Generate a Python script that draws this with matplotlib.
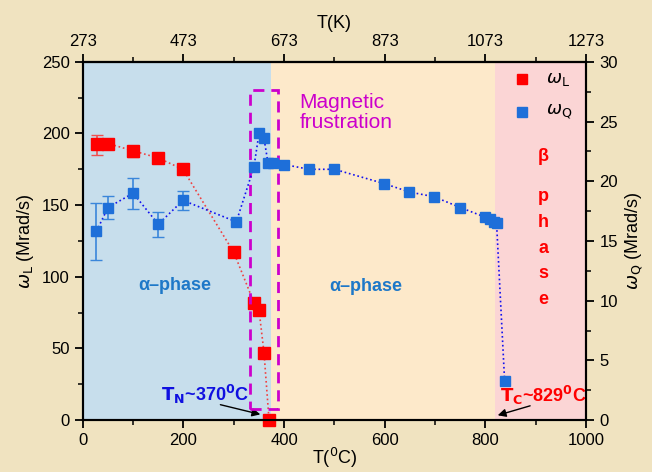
import matplotlib.pyplot as plt
from matplotlib.patches import Rectangle
from matplotlib.ticker import MultipleLocator

plt.rcParams['font.family'] = ['Liberation Sans', 'DejaVu Sans']

# omega_L (left axis)
tL = [28, 50, 99, 149, 199, 300, 340, 350, 360, 370]
wL = [193, 193, 188, 183, 175, 117, 82, 77, 47, 0]
tL_err = [28, 99]
wL_err_val = [193, 188]
wL_err_lo = [8, 4.5]
wL_err_hi = [6, 3]

# omega_Q (right axis)
tQ = [27, 50, 100, 150, 199, 305, 340, 350, 360, 368, 377, 400, 450, 500,
      599, 649, 698, 750, 799, 809, 817, 822, 838]
wQ = [15.8, 17.8, 19.0, 16.4, 18.4, 16.6, 21.2, 24.0, 23.6, 21.5, 21.5, 21.4,
      21.0, 21.0, 19.8, 19.1, 18.7, 17.8, 17.0, 16.8, 16.6, 16.5, 3.3]
tQ_err = [27, 50, 100, 150, 199]
wQ_err_val = [15.8, 17.8, 19.0, 16.4, 18.4]
wQ_err = [2.4, 1.0, 1.3, 1.05, 0.8]

bg = '#F0E3C0'
red = '#FF0000'
blue = '#1E6FD9'

fig = plt.figure(figsize=(6.52, 4.72), dpi=100, facecolor=bg)
ax = fig.add_axes([0.127, 0.110, 0.772, 0.759])
ax2 = ax.twinx()

ax.axvspan(0, 374, color='#C7DEEC', lw=0, zorder=0)
ax.axvspan(374, 819, color='#FDE9CA', lw=0, zorder=0)
ax.axvspan(819, 1000, color='#FBD5D5', lw=0, zorder=0)

# red curve and points
ax.plot(tL, wL, ls=':', color='#F04040', lw=1.2, zorder=2)
ax.errorbar(tL_err, wL_err_val, yerr=[wL_err_lo, wL_err_hi], fmt='none',
            ecolor='#F05050', capsize=4, lw=1.2, zorder=2)
ax.plot(tL, wL, ls='none', marker='s', ms=8, color=red, zorder=3, clip_on=False)

# blue curve and points
ax2.plot(tQ, wQ, ls=':', color='#1010F0', lw=1.2, zorder=2)
ax2.errorbar(tQ_err, wQ_err_val, yerr=wQ_err, fmt='none', ecolor='#3A86DA',
             capsize=4, lw=1.2, zorder=2)
ax2.plot(tQ, wQ, ls='none', marker='s', ms=7.5, color=blue, zorder=3)

# dashed box
ax.add_patch(Rectangle((333, 7.4), 54, 222.6, fill=False, ls=(0, (4, 2.5)),
                       lw=2, ec='#CC00CC', zorder=4))

ax.set_xlim(0, 1000)
ax.set_ylim(0, 250)
ax2.set_ylim(0, 30)

ax.xaxis.set_major_locator(MultipleLocator(200))
ax.xaxis.set_minor_locator(MultipleLocator(100))
ax.yaxis.set_major_locator(MultipleLocator(50))
ax.yaxis.set_minor_locator(MultipleLocator(25))
ax2.yaxis.set_major_locator(MultipleLocator(5))
ax2.yaxis.set_minor_locator(MultipleLocator(2.5))

top = ax.secondary_xaxis('top', functions=(lambda c: c + 273, lambda k: k - 273))
top.set_xticks([273, 473, 673, 873, 1073, 1273])
top.set_xticks([373, 573, 773, 973, 1173], minor=True)
top.set_xlabel('T(K)', fontsize=13, labelpad=4)

for a in (ax, ax2, top):
    a.tick_params(which='major', direction='out', length=6, width=1.3, labelsize=12)
    a.tick_params(which='minor', direction='out', length=3.5, width=1.1)
for a in (ax, ax2):
    for s in a.spines.values():
        s.set_linewidth(1.5)
top.spines['top'].set_linewidth(1.5)

ax.set_xlabel('T($^0$C)', fontsize=13, labelpad=-2)
ax.set_ylabel(r'$\omega_{\rm L}$ (Mrad/s)', fontsize=13)
ax2.set_ylabel(r'$\omega_{\rm Q}$ (Mrad/s)', fontsize=13)

# annotations
ax.text(431, 228, 'Magnetic\nfrustration', color='#CC00CC', fontsize=15,
        ha='left', va='top', linespacing=1.05, zorder=5)
ax.text(183, 94, 'α–phase', color='#1E78C8', fontsize=13, fontweight='bold',
        ha='center', va='center')
ax.text(563, 93, 'α–phase', color='#1E78C8', fontsize=13, fontweight='bold',
        ha='center', va='center')
beta_y = [184, 156, 138, 120, 102, 84]
for ch, yy in zip(['β', 'p', 'h', 'a', 's', 'e'], beta_y):
    ax.text(915, yy, ch, color=red, fontsize=13, fontweight='bold',
            ha='center', va='center')

ax.text(243, 18, r'$\mathbf{T_N}$~370$\mathbf{^0}$C', color='#1010E0', fontsize=13,
        fontweight='bold', ha='center', va='center')
ax.annotate('', xy=(358, 3.5), xytext=(268, 11.2),
            arrowprops=dict(arrowstyle='-|>', color='black', lw=1, mutation_scale=12))
ax.text(915, 17, r'$\mathbf{T_C}$~829$\mathbf{^0}$C', color=red, fontsize=13,
        fontweight='bold', ha='center', va='center')
ax.annotate('', xy=(819, 2.8), xytext=(894, 10.5),
            arrowprops=dict(arrowstyle='-|>', color='black', lw=1, mutation_scale=12))

# legend
ax.plot([873], [238], ls='none', marker='s', ms=7, color=red, zorder=5)
ax.text(920, 238, r'$\omega_{\rm L}$', fontsize=13, va='center', ha='left')
ax.plot([873], [215], ls='none', marker='s', ms=7, color=blue, zorder=5)
ax.text(920, 215, r'$\omega_{\rm Q}$', fontsize=13, va='center', ha='left')

fig.savefig('out.png', dpi=100, facecolor=bg)
